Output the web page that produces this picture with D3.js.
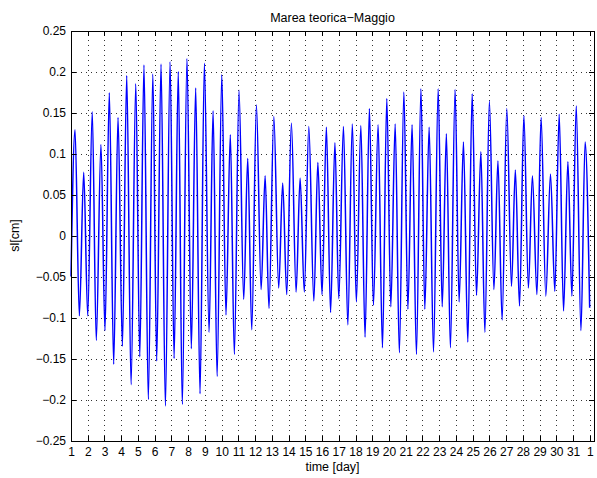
<!DOCTYPE html>
<html>
<head>
  <meta charset="utf-8">
  <title>Marea teorica-Maggio</title>
  <style>
    body {
      margin: 0;
      background: #fff;
    }

    svg {
      display: block;
      font-family: "Liberation Sans", Arial, Helvetica, sans-serif;
    }

    .grid line {
      stroke: #333;
      stroke-dasharray: 1, 4;
      shape-rendering: crispEdges;
    }

    .grid path {
      display: none;
    }

    .axis path,
    .axis line {
      stroke: #000;
      shape-rendering: crispEdges;
    }

    .axis text {
      font-size: 12px;
      fill: #000;
    }
  </style>
</head>
<body>
  <svg width="597" height="478"></svg>

  <script src="https://d3js.org/d3.v7.min.js"></script>
  <script>
    // time of each high / low water, in days since 1 May
    var extremaDay = [
      0, 0.24, 0.50, 0.76, 1.00, 1.27, 1.51, 1.79, 2.03, 2.29,
      2.55, 2.81, 3.07, 3.33, 3.59, 3.87, 4.11, 4.36, 4.62, 4.89,
      5.12, 5.38, 5.64, 5.92, 6.16, 6.41, 6.65, 6.93, 7.19, 7.45,
      7.71, 7.97, 8.25, 8.49, 8.73, 9.01, 9.26, 9.52, 9.76, 10.04,
      10.32, 10.56, 10.80, 11.08, 11.36, 11.60, 11.83, 12.12, 12.41, 12.65,
      12.89, 13.17, 13.45, 13.69, 13.94, 14.21, 14.51, 14.75, 15.00, 15.26,
      15.51, 15.77, 16.00, 16.28, 16.54, 16.81, 17.05, 17.32, 17.57, 17.83,
      18.07, 18.35, 18.61, 18.87, 19.11, 19.37, 19.62, 19.89, 20.13, 20.38,
      20.64, 20.91, 21.14, 21.40, 21.66, 21.94, 22.18, 22.43, 22.67, 22.95,
      23.19, 23.45, 23.71, 23.97, 24.23, 24.49, 24.73, 25.00, 25.27, 25.51,
      25.76, 26.04, 26.32, 26.55, 26.80, 27.06, 27.33, 27.57, 27.84, 28.09,
      28.37, 28.65, 28.91, 29.17, 29.43, 29.69, 29.93, 30.19, 30.47, 30.72,
      30.99
    ];

    // sea level at those times (sl, as labelled on the chart)
    var extremaLevel = [
      -0.050, 0.129, -0.098, 0.077, -0.098, 0.151, -0.128, 0.111, -0.116, 0.174,
      -0.157, 0.144, -0.135, 0.195, -0.182, 0.185, -0.148, 0.208, -0.200, 0.197,
      -0.153, 0.209, -0.208, 0.212, -0.150, 0.200, -0.206, 0.216, -0.138, 0.180,
      -0.193, 0.210, -0.118, 0.152, -0.172, 0.196, -0.097, 0.123, -0.145, 0.177,
      -0.078, 0.094, -0.115, 0.159, -0.066, 0.073, -0.089, 0.145, -0.064, 0.064,
      -0.072, 0.137, -0.069, 0.070, -0.069, 0.133, -0.080, 0.089, -0.072, 0.132,
      -0.094, 0.113, -0.077, 0.133, -0.109, 0.136, -0.081, 0.134, -0.124, 0.155,
      -0.085, 0.135, -0.137, 0.167, -0.087, 0.136, -0.143, 0.175, -0.090, 0.135,
      -0.145, 0.179, -0.090, 0.132, -0.142, 0.179, -0.087, 0.124, -0.137, 0.178,
      -0.081, 0.114, -0.130, 0.173, -0.073, 0.102, -0.118, 0.164, -0.066, 0.091,
      -0.103, 0.155, -0.062, 0.080, -0.086, 0.146, -0.064, 0.073, -0.072, 0.144,
      -0.074, 0.075, -0.068, 0.148, -0.092, 0.090, -0.074, 0.158, -0.116, 0.114,
      -0.088
    ];

    var xTicks = d3.range(0, 32);
    var xTickLabels = d3.range(1, 32).map(String).concat(['1']);
    var yTicks = [-0.25, -0.2, -0.15, -0.1, -0.05, 0, 0.05, 0.1, 0.15, 0.2, 0.25];
    var yTickLabels = ['\u22120.25', '\u22120.2', '\u22120.15', '\u22120.1', '\u22120.05',
      '0', '0.05', '0.1', '0.15', '0.2', '0.25'];

    var svg = d3.select('svg');
    var plotLeft = 71, plotRight = 594, plotTop = 30.5, plotBottom = 440.5;

    var x = d3.scaleLinear().domain([0, 31.25]).range([plotLeft, plotRight]);
    var y = d3.scaleLinear().domain([-0.25, 0.25]).range([plotBottom, plotTop]);

    // dotted grid
    svg.append('g')
      .attr('class', 'grid')
      .attr('transform', 'translate(0,' + plotBottom + ')')
      .call(d3.axisBottom(x).tickValues(xTicks.slice(1)).tickSize(-(plotBottom - plotTop)).tickFormat(''));
    svg.append('g')
      .attr('class', 'grid')
      .attr('transform', 'translate(' + plotLeft + ',0)')
      .call(d3.axisLeft(y).tickValues(yTicks.slice(1, -1)).tickSize(-(plotRight - plotLeft)).tickFormat(''));

    // the tide curve
    var points = extremaDay.map(function(d, i) { return [d, extremaLevel[i]]; });
    var line = d3.line()
      .x(function(d) { return x(d[0]); })
      .y(function(d) { return y(d[1]); })
      .curve(d3.curveMonotoneX);

    svg.append('path')
      .datum(points)
      .attr('d', line)
      .attr('fill', 'none')
      .attr('stroke', '#0000ff')
      .attr('stroke-width', 1.5);

    // box axes with inward ticks
    svg.append('g')
      .attr('class', 'axis')
      .attr('transform', 'translate(0,' + plotBottom + ')')
      .call(d3.axisBottom(x).tickValues(xTicks).tickSize(-5).tickSizeOuter(0).tickPadding(7)
        .tickFormat(function(d, i) { return xTickLabels[i]; }));
    svg.append('g')
      .attr('class', 'axis')
      .attr('transform', 'translate(0,' + plotTop + ')')
      .call(d3.axisTop(x).tickValues(xTicks).tickSize(-5).tickSizeOuter(0).tickFormat(''));
    svg.append('g')
      .attr('class', 'axis')
      .attr('transform', 'translate(' + plotLeft + ',0)')
      .call(d3.axisLeft(y).tickValues(yTicks).tickSize(-5).tickSizeOuter(0).tickPadding(5)
        .tickFormat(function(d, i) { return yTickLabels[i]; }));
    svg.append('g')
      .attr('class', 'axis')
      .attr('transform', 'translate(' + plotRight + ',0)')
      .call(d3.axisRight(y).tickValues(yTicks).tickSize(-5).tickSizeOuter(0).tickFormat(''));

    // titles
    svg.append('text')
      .attr('x', (plotLeft + plotRight) / 2)
      .attr('y', 22)
      .attr('text-anchor', 'middle')
      .style('font-size', '12.5px')
      .text('Marea teorica\u2212Maggio');

    svg.append('text')
      .attr('x', (plotLeft + plotRight) / 2)
      .attr('y', 471)
      .attr('text-anchor', 'middle')
      .style('font-size', '12.5px')
      .text('time [day]');

    svg.append('text')
      .attr('transform', 'translate(19,' + ((plotTop + plotBottom) / 2) + ') rotate(-90)')
      .attr('text-anchor', 'middle')
      .style('font-size', '12.5px')
      .text('sl[cm]');
  </script>
</body>
</html>
